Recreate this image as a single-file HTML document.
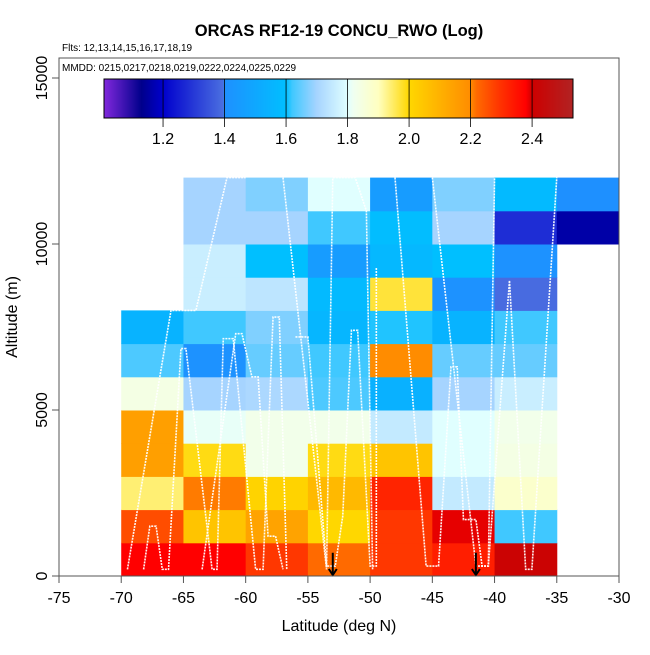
<!DOCTYPE html>
<html><head><meta charset="utf-8"><style>
body{margin:0;background:#fff}
svg text{font-family:"Liberation Sans",sans-serif}
</style></head><body>
<svg id="chart" width="650" height="650" xmlns="http://www.w3.org/2000/svg">
<text x="339" y="36" font-size="16.5" font-weight="bold" text-anchor="middle">ORCAS RF12-19 CONCU_RWO (Log)</text>
<text x="62" y="51" font-size="10">Flts: 12,13,14,15,16,17,18,19</text>
<g id="cells"></g>
<g id="tracks"></g>
<g id="axes"></g>
<g id="legend"></g>
<text x="339" y="631" font-size="16" text-anchor="middle">Latitude (deg N)</text>
<text transform="translate(17,317) rotate(-90)" font-size="16" text-anchor="middle">Altitude (m)</text>
</svg>
<script>
const lonEdges=[-70,-65,-60,-55,-50,-45,-40,-35,-30];
const altEdges=[0,1000,2000,3000,4000,5000,6000,7000,8000,9000,10000,11000,12000];
// values[row][col], row 0 = 0-1000 m; null = no data
const values=[
[2.38,2.38,2.29,2.22,2.29,2.33,2.41,null],
[2.26,2.05,2.14,2.00,2.29,2.39,1.62,null],
[1.94,2.21,2.01,2.08,2.32,1.75,1.88,null],
[2.15,1.99,1.83,1.99,2.05,1.80,1.84,null],
[2.15,1.81,1.83,1.83,1.75,1.80,1.83,null],
[1.84,1.70,1.71,1.63,1.54,1.70,1.76,null],
[1.63,1.41,1.65,1.62,2.20,1.65,1.65,null],
[1.55,1.62,1.67,1.56,1.61,1.55,1.62,null],
[null,1.76,1.74,1.58,1.97,1.41,1.39,null],
[null,1.76,1.60,1.45,1.57,1.60,1.41,null],
[null,1.70,1.70,1.62,1.59,1.70,1.28,1.16],
[null,1.70,1.67,1.80,1.45,1.67,1.58,1.40]
];
const xTicks=[-75,-70,-65,-60,-55,-50,-45,-40,-35,-30];
const yTicks=[0,5000,10000,15000];
const cbTicks=[1.2,1.4,1.6,1.8,2.0,2.2,2.4];
const cbRange=[1.008,2.533];
const stops=[[1.0,"#8a2be2"],[1.13,"#00008b"],[1.2,"#0000cd"],[1.395,"#4a6ee0"],[1.4,"#1e90ff"],[1.6,"#00bfff"],[1.62,"#40c8ff"],[1.7,"#a6d4ff"],[1.8,"#e0ffff"],[1.82,"#f0fff0"],[1.9,"#ffffc0"],[2.0,"#ffd700"],[2.2,"#ff8c00"],[2.22,"#ff6a00"],[2.3,"#ff3000"],[2.38,"#ff0000"],[2.4,"#cd0000"],[2.53,"#b22222"]];
const arrowsLon=[-53,-41.5];
const track1=[[-68.2,200],[-67.7,1500],[-67.2,1500],[-66.7,200],[-66.2,200],[-65.2,6850],[-64.8,6850],[-62.7,200],[-62.3,200],[-61.8,7150],[-61,7150],[-59.2,200],[-58.6,200],[-57.8,7800],[-57.3,7800],[-56.7,200]];
const track2=[[-69.5,200],[-66,8000],[-64,8000],[-61.5,12000],[-60,12000]];
const track3=[[-63.5,200],[-60.8,7300],[-60.3,7300],[-59.5,6000],[-59,6000],[-58.2,1200],[-57.6,1200],[-57,200]];
const track4=[[-56,7200],[-55,7200],[-53.5,300],[-52.8,300],[-52.2,1800],[-51.5,7400],[-51,7400],[-50,300],[-49.5,300],[-49.5,9300]];
const track5=[[-57,12000],[-53.5,200],[-53,12000],[-51.2,12000],[-50.3,11000],[-49.8,200]];
const track6=[[-48,12000],[-45.5,300],[-44.5,300],[-43.5,6300],[-43,6300],[-42.5,1700],[-41.5,1700],[-41,300],[-40.5,300],[-38.8,8900],[-37.5,200],[-37,200],[-35,12000]];
const track7=[[-45,12000],[-41.5,300],[-40.5,300],[-40,12000]];
const tracks=[track1,track2,track3,track4,track5,track6,track7];

const NS="http://www.w3.org/2000/svg";
const X0=59,X1=619,Y0=576,Y1=78;
const sx=v=>X0+(v+75)*(X1-X0)/45;
const sy=v=>Y0-v*(Y0-Y1)/15000;
const CB={x0:104,x1:573,y0:79,y1:118};
const cx=v=>CB.x0+(v-cbRange[0])*(CB.x1-CB.x0)/(cbRange[1]-cbRange[0]);
function hex(c){return [1,3,5].map(i=>parseInt(c.substr(i,2),16));}
function color(v){
  if(v<=stops[0][0])return stops[0][1];
  for(let i=1;i<stops.length;i++){
    if(v<=stops[i][0]){
      const a=hex(stops[i-1][1]),b=hex(stops[i][1]);
      const t=(v-stops[i-1][0])/(stops[i][0]-stops[i-1][0]);
      return "rgb("+a.map((q,k)=>Math.round(q+(b[k]-q)*t)).join(",")+")";
    }
  }
  return stops[stops.length-1][1];
}
function mk(tag,attrs,parent){const e=document.createElementNS(NS,tag);for(const k in attrs)e.setAttribute(k,attrs[k]);parent.appendChild(e);return e;}

const cells=document.getElementById("cells");
values.forEach((row,r)=>row.forEach((v,c)=>{
  if(v===null)return;
  const x=sx(lonEdges[c]),x2=sx(lonEdges[c+1]),y=sy(altEdges[r+1]),y2=sy(altEdges[r]);
  const e=mk("rect",{x:x,y:y,width:x2-x+0.5,height:y2-y+0.5,fill:color(v)},cells);
  
  
}));

const tg=document.getElementById("tracks");
tracks.forEach(t=>{
  const p=mk("polyline",{points:t.map(q=>sx(q[0])+","+sy(q[1])).join(" "),fill:"none",stroke:"#fff","stroke-width":1.6,"stroke-dasharray":"2 1","stroke-opacity":0.95},tg);
  
  
});
arrowsLon.forEach(l=>{
  const g=mk("g",{},tg);
  
  
  mk("line",{x1:sx(l),x2:sx(l),y1:sy(700),y2:Y0-1,stroke:"#000","stroke-width":2},g);
  mk("polyline",{points:(sx(l)-4)+","+(Y0-7)+" "+sx(l)+","+(Y0-1)+" "+(sx(l)+4)+","+(Y0-7),fill:"none",stroke:"#000","stroke-width":2},g);
});

const ax=document.getElementById("axes");
mk("rect",{x:X0,y:58,width:X1-X0,height:Y0-58,fill:"none",stroke:"#555","stroke-width":1},ax);
xTicks.forEach(t=>{
  mk("line",{x1:sx(t),x2:sx(t),y1:Y0,y2:Y0+7,stroke:"#555"},ax);
  const e=mk("text",{x:sx(t),y:Y0+27,"font-size":16,"text-anchor":"middle"},ax);
  e.textContent=t;
  
  
});
yTicks.forEach(t=>{
  mk("line",{x1:X0-7,x2:X0,y1:sy(t),y2:sy(t),stroke:"#555"},ax);
  const e=mk("text",{transform:"translate("+(X0-12)+","+sy(t)+") rotate(-90)","font-size":16,"text-anchor":"middle"},ax);
  e.textContent=t;
  
  
});

const lg=document.getElementById("legend");
const mm=mk("text",{x:62,y:71,"font-size":10},lg);
mm.textContent="MMDD: 0215,0217,0218,0219,0222,0224,0225,0229";


for(let px=CB.x0;px<CB.x1;px++){
  const v=cbRange[0]+(px+0.5-CB.x0)*(cbRange[1]-cbRange[0])/(CB.x1-CB.x0);
  mk("rect",{x:px,y:CB.y0,width:1.2,height:CB.y1-CB.y0,fill:color(v)},lg);
}
mk("rect",{x:CB.x0,y:CB.y0,width:CB.x1-CB.x0,height:CB.y1-CB.y0,fill:"none",stroke:"#000"},lg);
cbTicks.forEach(t=>{
  mk("line",{x1:cx(t),x2:cx(t),y1:CB.y0,y2:CB.y1+9,stroke:"#000","stroke-width":0.8},lg);
  const e=mk("text",{x:cx(t),y:144,"font-size":16,"text-anchor":"middle"},lg);
  e.textContent=t.toFixed(1);
  
  
});
</script>
</body></html>
